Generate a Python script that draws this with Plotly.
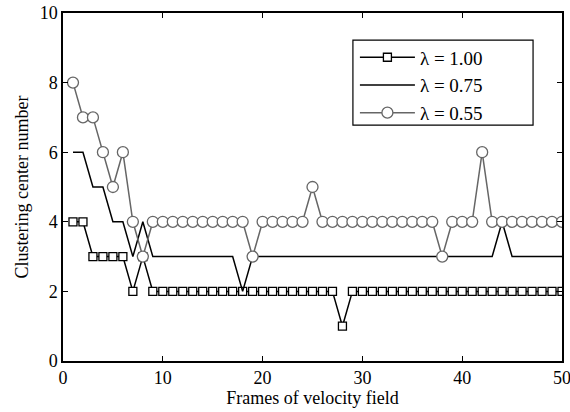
import plotly.graph_objects as go

frames = list(range(1, 51))
lam100 = [4, 4, 3, 3, 3, 3, 2, 3] + [2] * 19 + [1] + [2] * 22
lam075 = [6, 6, 5, 5, 4, 4, 3, 4] + [3] * 9 + [2] + [3] * 25 + [4] + [3] * 6
lam055 = [8, 7, 7, 6, 5, 6, 4, 3] + [4] * 10 + [3] + [4] * 5 + [5] + [4] * 12 + [3] + [4] * 3 + [6] + [4] * 8
names = ["λ = 1.00", "λ = 0.75", "λ = 0.55"]

font = "Liberation Serif, Times New Roman, serif"
fig = go.Figure()
fig.add_trace(go.Scatter(x=frames, y=lam100, name=names[0], mode="lines+markers",
                         line=dict(color="black", width=1.5),
                         marker=dict(symbol="square", size=8, color="white",
                                     line=dict(color="black", width=1.3))))
fig.add_trace(go.Scatter(x=frames, y=lam075, name=names[1], mode="lines",
                         line=dict(color="black", width=1.5)))
fig.add_trace(go.Scatter(x=frames, y=lam055, name=names[2], mode="lines+markers",
                         line=dict(color="#666666", width=1.5),
                         marker=dict(symbol="circle", size=11, color="white",
                                     line=dict(color="#666666", width=1.3))))

axis_common = dict(showgrid=False, zeroline=False, showline=True, linecolor="black",
                   linewidth=1.5, mirror="ticks", ticks="inside", ticklen=5,
                   tickcolor="black", tickwidth=1.2, automargin=False,
                   ticklabeloverflow="allow",
                   tickfont=dict(family=font, size=18, color="black"))
fig.update_xaxes(range=[0, 50], dtick=10, title=dict(text="Frames of velocity field",
                 font=dict(family=font, size=18, color="black"), standoff=2), **axis_common)
fig.update_yaxes(range=[0, 10], dtick=2, title=dict(text="Clustering center number",
                 font=dict(family=font, size=18, color="black"), standoff=6), **axis_common)

# legend frame (wider than plotly's auto-sized box)
fig.add_shape(type="rect", xref="paper", yref="paper",
              x0=0.581, x1=0.942, y0=0.678, y1=0.922,
              line=dict(color="black", width=1.2), fillcolor="white", layer="above")

fig.update_layout(
    width=570, height=412,
    margin=dict(l=63, r=8, t=13, b=51),
    plot_bgcolor="white", paper_bgcolor="white",
    showlegend=True,
    legend=dict(x=0.585, y=0.927, xanchor="left", yanchor="top",
                borderwidth=0, bgcolor="rgba(0,0,0,0)",
                font=dict(family=font, size=19, color="black"),
                itemwidth=55, tracegroupgap=0),
)
fig.write_html("out.html", post_script="document.body.style.margin='0';",
               config={"displayModeBar": False})
